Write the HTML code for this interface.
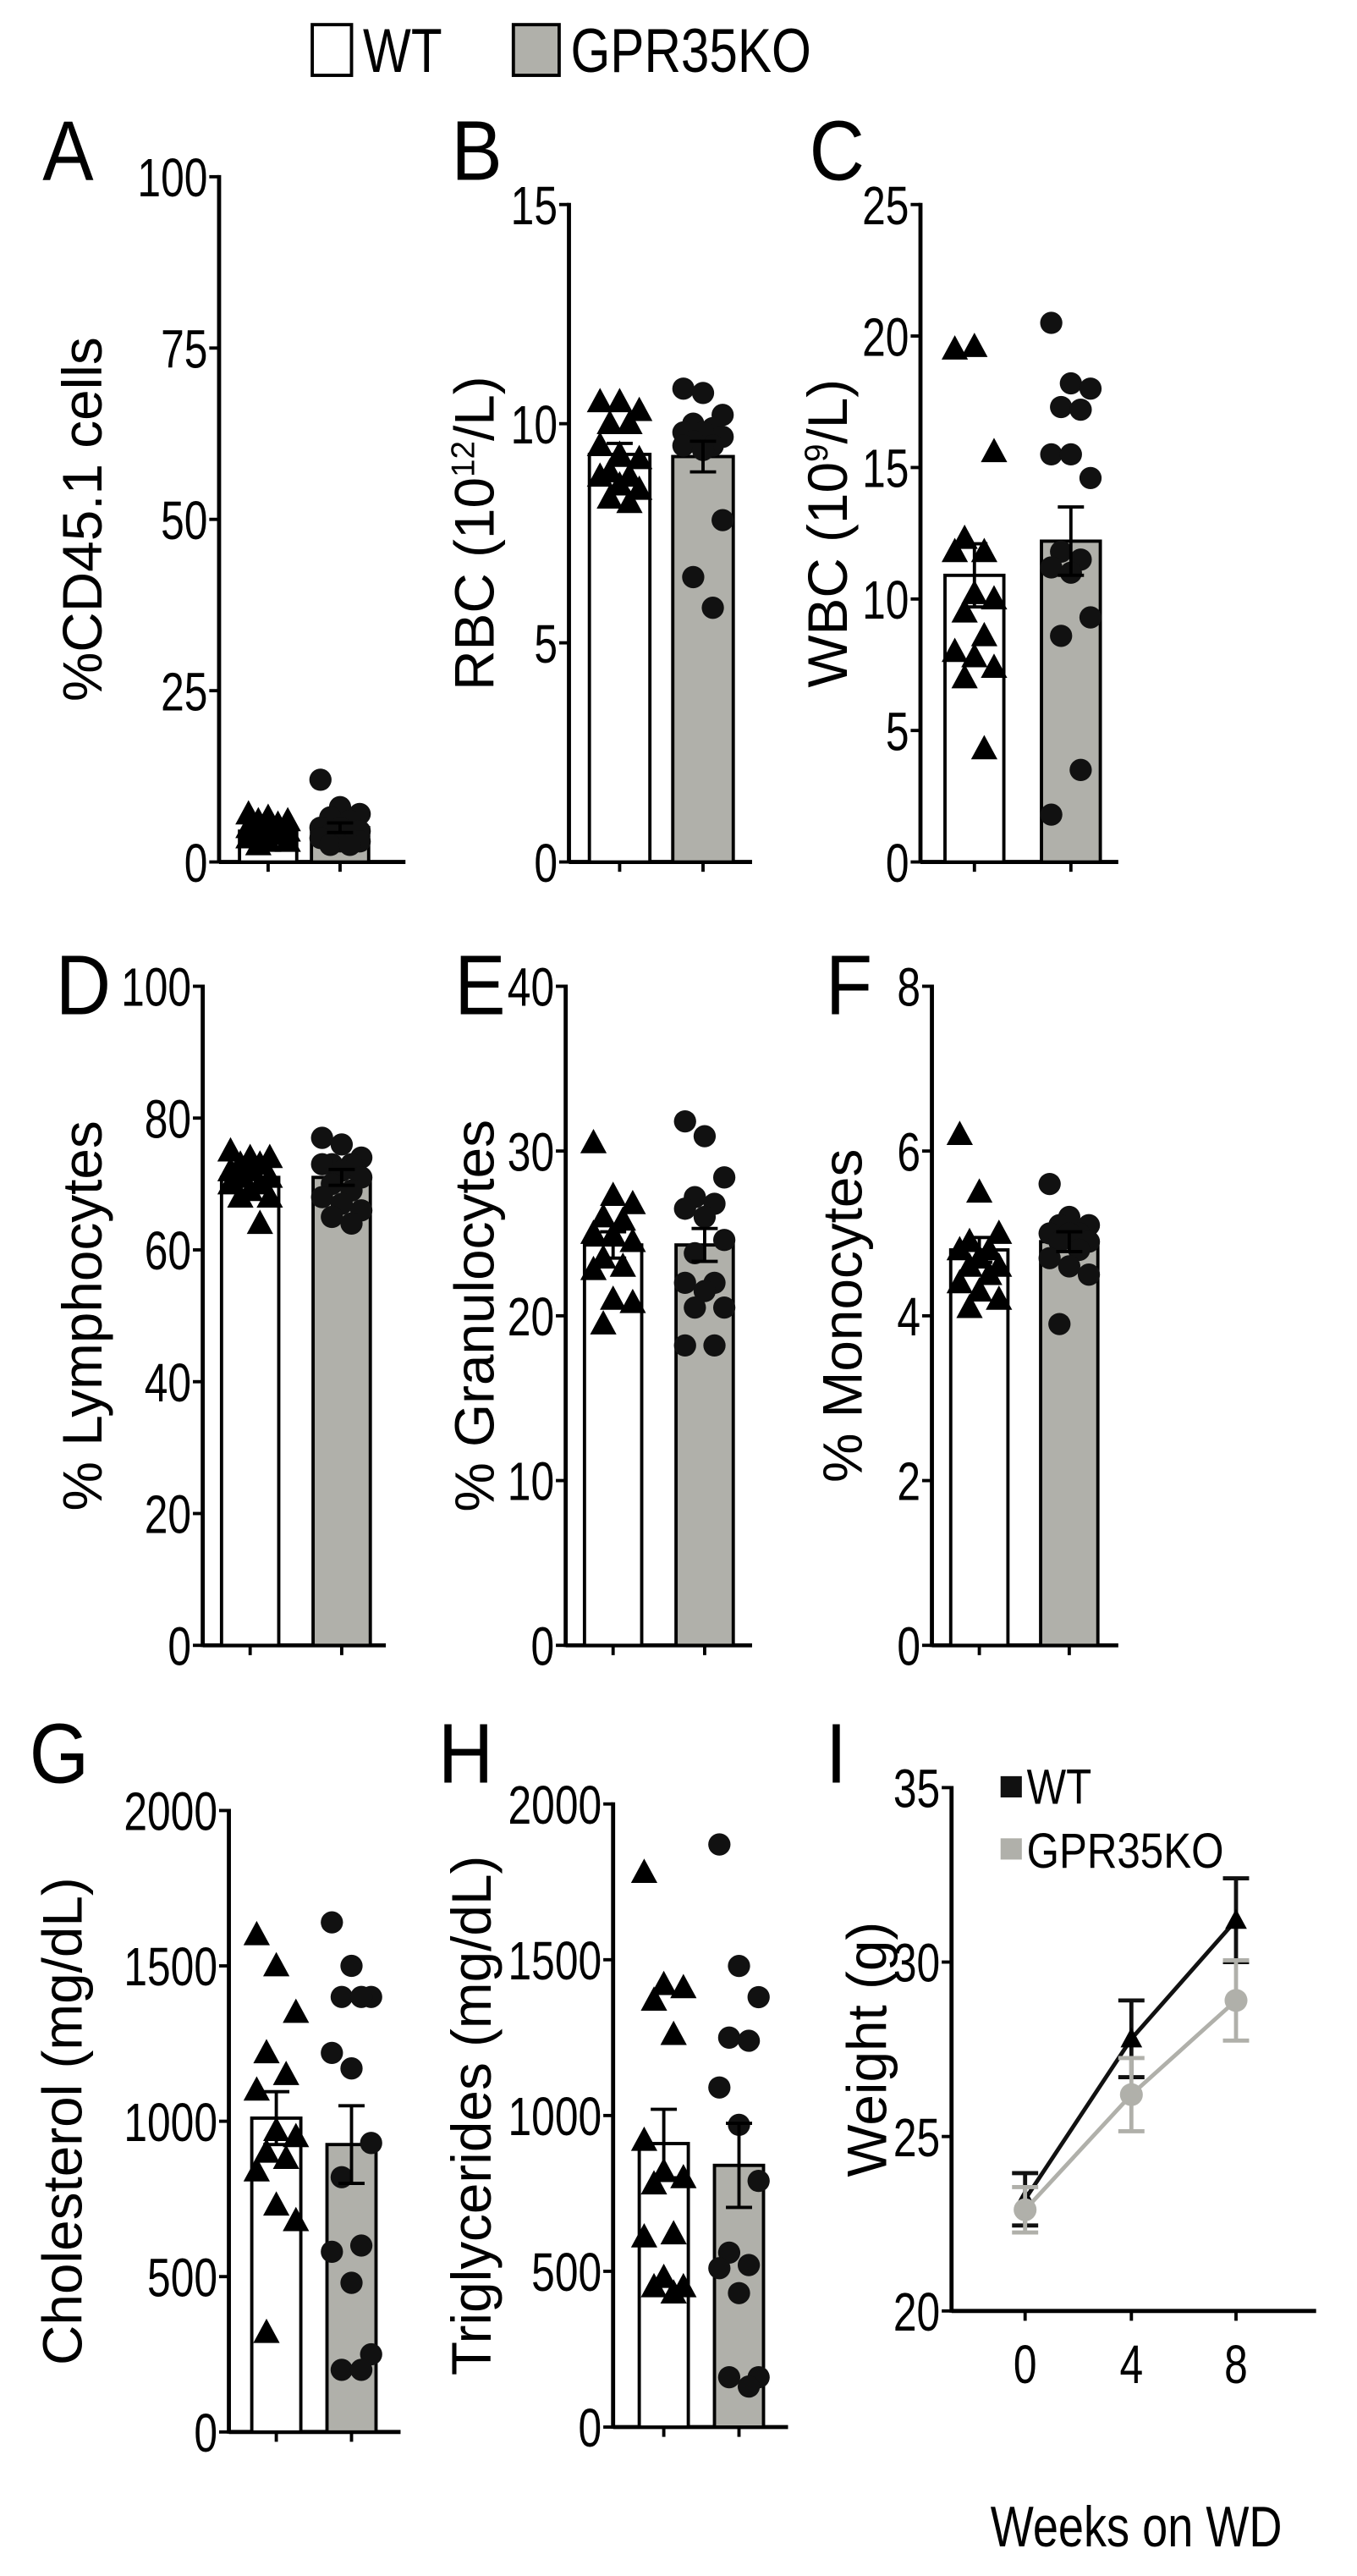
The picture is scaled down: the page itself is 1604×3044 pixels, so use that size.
<!DOCTYPE html>
<html><head><meta charset="utf-8"><style>
html,body{margin:0;padding:0;background:#fff;}
svg{display:block;}
text{font-family:"Liberation Sans",Arial,sans-serif;fill:#000;}
</style></head><body>
<svg id="s" width="1604" height="3044" viewBox="0 0 830 1575" xmlns="http://www.w3.org/2000/svg"></svg>
<script>
var s=document.getElementById('s'),h='';
function T(x,y,t,fs,a,sx){sx=sx||0.82;h+='<text transform="translate('+x+','+y+') scale('+sx+',1)" font-size="'+fs+'" text-anchor="'+(a||'start')+'">'+t+'</text>';}
function L(x1,y1,x2,y2,c,w){h+='<line x1="'+x1+'" y1="'+y1+'" x2="'+x2+'" y2="'+y2+'" stroke="'+(c||'#000')+'" stroke-width="'+(w||2)+'"/>';}
function tri(x,y,r){h+='<polygon points="'+x+','+(y-r)+' '+(x-r*0.95)+','+(y+r*0.75)+' '+(x+r*0.95)+','+(y+r*0.75)+'" fill="#000"/>';}
function cir(x,y,r,c){h+='<circle cx="'+x+'" cy="'+y+'" r="'+r+'" fill="'+(c||'#111')+'"/>';}
// legend
h+='<rect x="191" y="15" width="24" height="31" fill="#fff" stroke="#000" stroke-width="2"/>';
T(222,44,'WT',38);
h+='<rect x="314" y="15" width="28" height="31" fill="#b0b0aa" stroke="#000" stroke-width="2"/>';
T(349,44,'GPR35KO',38);
function panel(o){
 var ax=o.ax,y0=o.y0,y1=o.y1,max=o.max,min=o.min||0;
 function Y(v){return y0-(v-min)/(max-min)*(y0-y1);}
 T(o.lx,o.ly,o.L,52,'start',0.9);
 h+='<text transform="translate('+o.ylx+','+((y0+y1)/2)+') rotate(-90)" font-size="34" text-anchor="middle">'+o.yl+'</text>';
 L(ax,y1-1,ax,y0+1,'#000',2.5);
 L(ax,y0,o.xe,y0,'#000',2.5);
 o.ticks.forEach(function(t){var y=Y(t);L(ax-6,y,ax,y,'#000',2);T(ax-7,y+12,t,33,'end',0.78);});
 var bw=o.bw,c1=o.c1,c2=o.c2;
 [[c1,o.m1,o.e1,'#fff',o.d1,0],[c2,o.m2,o.e2,'#b0b0aa',o.d2,1]].forEach(function(b){
  var cx=b[0],yt=Y(b[1]);
  h+='<rect x="'+(cx-bw/2)+'" y="'+yt+'" width="'+bw+'" height="'+(y0-yt)+'" fill="'+b[3]+'" stroke="#000" stroke-width="2"/>';
  L(cx,y0,cx,y0+6,'#000',2);
  b[4].forEach(function(v,i){var dx=((i*7)%5-2)*6;var y=Y(v);if(b[5])cir(cx+dx,y,6.8);else tri(cx+dx,y,8.5);});
  var ea=Y(b[1]+b[2]),eb=Y(b[1]-b[2]);
  L(cx,ea,cx,eb,'#000',2);L(cx-8,ea,cx+8,ea,'#000',2);L(cx-8,eb,cx+8,eb,'#000',2);
 });
}
panel({L:'A',lx:26,ly:110,yl:'%CD45.1 cells',ylx:62,ax:134,y0:527,y1:108,max:100,xe:248,ticks:[0,25,50,75,100],bw:35,c1:164,c2:208,m1:4.5,e1:0.5,m2:5,e2:0.7,
 d1:[7,6.5,6,6,5.5,5,5,4.5,4,4,3.5,3,3,2.5],d2:[12,8,7,6.5,6,5,5,4.5,4,4,3.5,3,3,2.5,2.5]});
panel({L:'B',lx:276,ly:110,yl:'RBC (10<tspan font-size="20" dy="-12">12</tspan><tspan dy="12">/L)</tspan>',ylx:302,ax:348,y0:527,y1:125,max:15,xe:460,ticks:[0,5,10,15],bw:37,c1:379,c2:430,m1:9.3,e1:0.25,m2:9.25,e2:0.35,
 d1:[10.5,10.5,10.3,10,10,9.5,9.3,9.2,8.9,8.8,8.8,8.6,8.5,8.3,8.2],d2:[10.8,10.7,10.2,10,9.9,9.8,9.8,9.7,9.6,9.5,9.5,9.4,7.8,6.5,5.8]});
panel({L:'C',lx:495,ly:110,yl:'WBC (10<tspan font-size="20" dy="-12">9</tspan><tspan dy="12">/L)</tspan>',ylx:518,ax:563,y0:527,y1:125,max:25,xe:684,ticks:[0,5,10,15,20,25],bw:36,c1:596,c2:655,m1:10.9,e1:1.2,m2:12.2,e2:1.3,
 d1:[19.5,19.6,15.6,12.3,11.8,11.8,10.2,10,9.5,8.6,8,7.8,7.4,7,4.3],d2:[20.5,18.2,18,17.3,17.2,15.5,15.5,14.6,11.8,11.5,11.2,11,9.3,8.6,3.5,1.8]});
panel({L:'D',lx:34,ly:620,yl:'% Lymphocytes',ylx:62,ax:124,y0:1006,y1:603,max:100,xe:236,ticks:[0,20,40,60,80,100],bw:35,c1:153,c2:209,m1:71,e1:1,m2:71,e2:1.2,
 d1:[75,74,74,73,73,72,72,71,71,70,70,69,68,68,64],d2:[77,76,74,73,73,73,72,71,70,69,68,67,66,65,64]});
panel({L:'E',lx:278,ly:620,yl:'% Granulocytes',ylx:302,ax:346,y0:1006,y1:603,max:40,xe:460,ticks:[0,10,20,30,40],bw:35,c1:375,c2:431,m1:24.3,e1:0.8,m2:24.3,e2:1,
 d1:[30.5,27.3,26.8,26,25.8,25,24.9,24.5,23.5,23,22.8,21,20.8,19.5],d2:[31.8,30.9,28.4,27.2,26.8,26.5,26,24.6,23.8,22,22,21.5,20.5,20.5,18.2,18.2]});
panel({L:'F',lx:505,ly:620,yl:'% Monocytes',ylx:527,ax:570,y0:1006,y1:603,max:8,xe:684,ticks:[0,2,4,6,8],bw:35,c1:599,c2:654,m1:4.8,e1:0.15,m2:4.9,e2:0.12,
 d1:[6.2,5.5,5.0,4.9,4.8,4.8,4.7,4.6,4.6,4.5,4.4,4.3,4.2,4.1],d2:[5.6,5.2,5.1,5.1,5.0,5.0,5.0,4.9,4.9,4.8,4.7,4.6,4.5,3.9]});
panel({L:'G',lx:18,ly:1090,yl:'Cholesterol (mg/dL)',ylx:50,ax:140,y0:1487,y1:1107,max:2000,xe:245,ticks:[0,500,1000,1500,2000],bw:30,c1:169,c2:215,m1:1010,e1:85,m2:925,e2:125,
 d1:[1600,1500,1350,1220,1150,1100,970,950,900,880,840,730,680,320],d2:[1640,1500,1400,1400,1400,1220,1170,930,820,600,580,480,250,200,200]});
panel({L:'H',lx:268,ly:1090,yl:'Triglycerides (mg/dL)',ylx:300,ax:375,y0:1484,y1:1103,max:2000,xe:482,ticks:[0,500,1000,1500,2000],bw:30,c1:406,c2:452,m1:910,e1:110,m2:840,e2:135,
 d1:[1780,1420,1410,1370,1260,920,820,800,780,620,610,480,450,450,430],d2:[1870,1480,1380,1250,1240,1090,970,790,560,520,510,430,160,160,130]});
(function(){
 var ax=582,y0=1413,y1=1093;function Y(v){return y0-(v-20)/15*(y0-y1);}
 T(505,1090,'I',52,'start',0.9);
 h+='<text transform="translate(542,1253) rotate(-90)" font-size="34" text-anchor="middle">Weight (g)</text>';
 L(ax,y1-1,ax,y0+1,'#000',2.5);L(ax,y0,805,y0,'#000',2.5);
 [20,25,30,35].forEach(function(t){var y=Y(t);L(ax-6,y,ax,y);T(ax-7,y+12,t,33,'end',0.78);});
 var xs=[627,692,756];
 xs.forEach(function(x,i){L(x,y0,x,y0+6);T(x,y0+44,[0,4,8][i],33,'middle',0.78);});
 T(695,1557,'Weeks on WD',35,'middle',0.8);
 var kc='#b0b0aa';
 var wt=[[23.2,0.75],[27.8,1.1],[31.2,1.2]],ko=[[22.9,0.65],[26.2,1.05],[28.9,1.15]];
 function ser(d,c,m){var p=d.map(function(v,i){return xs[i]+','+Y(v[0]);}).join(' ');
  h+='<polyline points="'+p+'" fill="none" stroke="'+c+'" stroke-width="2.5"/>';
  d.forEach(function(v,i){var x=xs[i],a=Y(v[0]+v[1]),b=Y(v[0]-v[1]);L(x,a,x,b,c,2.5);L(x-8,a,x+8,a,c,2.5);L(x-8,b,x+8,b,c,2.5);
   if(m)tri(x,Y(v[0]),7);else cir(x,Y(v[0]),7,c);});}
 ser(wt,'#111',1);ser(ko,kc,0);
 h+='<rect x="612" y="1086" width="13" height="13" fill="#111"/>';T(628,1103,'WT',30,'start',0.85);
 h+='<rect x="612" y="1124" width="13" height="13" fill="'+kc+'"/>';T(628,1142,'GPR35KO',30,'start',0.85);
})();
s.innerHTML=h;
</script>
</body></html>
